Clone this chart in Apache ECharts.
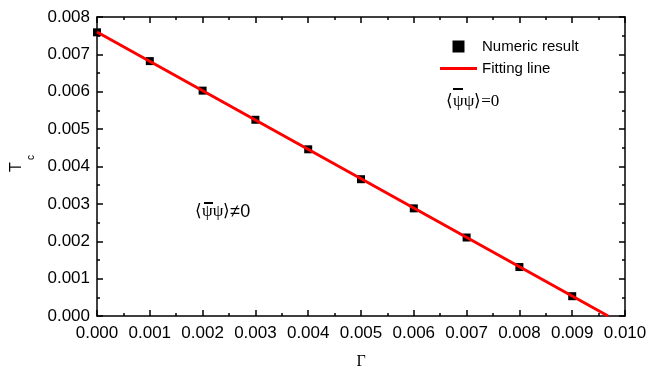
<!DOCTYPE html>
<html>
<head>
<meta charset="utf-8">
<script src="https://cdn.jsdelivr.net/npm/echarts@6/dist/echarts.min.js"></script>
<style>
  html, body { margin: 0; padding: 0; background: #fff; }
  #chart { width: 667px; height: 369px; }
</style>
</head>
<body>
<div id="chart"></div>
<script>
// Critical temperature versus coupling Γ
const gammaValues = [0.000, 0.001, 0.002, 0.003, 0.004, 0.005, 0.006, 0.007, 0.008, 0.009];
const tcValues = [0.00759, 0.00682, 0.00603, 0.00525, 0.00446, 0.00366, 0.00288, 0.00210, 0.00131, 0.00053];
// Linear fit endpoints (Γ, Tc)
const fitGamma = [0.0, 0.00968];
const fitTc = [0.00760, 0.0];

const chart = echarts.init(document.getElementById('chart'), null, { renderer: 'canvas' });

const font = '"Liberation Sans", Arial, sans-serif';
const serif = '"Liberation Serif", "Times New Roman", serif';
const axisLine = { show: true, onZero: false, lineStyle: { color: '#000', width: 1.5 } };
const tick = { inside: true, length: 6, lineStyle: { color: '#000', width: 1.5 } };
const minor = { show: true, splitNumber: 2, length: 3, lineStyle: { color: '#000', width: 1.5 } };
const fmt = v => v.toFixed(3);

chart.setOption({
  animation: false,
  backgroundColor: '#fff',
  grid: { left: 97, right: 42, top: 17, bottom: 53, outerBoundsMode: 'none', containLabel: false },
  legend: {
    orient: 'vertical',
    left: 440,
    top: 39,
    padding: 0,
    itemWidth: 37,
    itemHeight: 12,
    itemGap: 7,
    symbolKeepAspect: true,
    textStyle: { fontFamily: font, fontSize: 15, color: '#000' },
    data: [
      { name: 'Numeric result', icon: 'path://M0 0H12V12H0Z', itemStyle: { color: '#000', opacity: 1 } },
      { name: 'Fitting line', icon: 'path://M0 0H37V3H0Z', itemStyle: { color: '#ff0000' } }
    ]
  },
  xAxis: [
    {
      type: 'value', min: 0, max: 0.01, interval: 0.001,
      name: 'Γ', nameLocation: 'middle', nameGap: 38,
      nameTextStyle: { fontFamily: serif, fontSize: 16, color: '#000', verticalAlign: 'top' },
      axisLine: axisLine, axisTick: tick, minorTick: minor,
      axisLabel: { formatter: fmt, fontFamily: font, fontSize: 17, color: '#000', margin: 9 },
      splitLine: { show: false }
    },
    {
      type: 'value', position: 'top', min: 0, max: 0.01, interval: 0.001,
      axisLine: axisLine, axisTick: tick, minorTick: minor,
      axisLabel: { show: false },
      splitLine: { show: false }
    }
  ],
  yAxis: [
    {
      type: 'value', min: 0, max: 0.008, interval: 0.001,
      name: '{t|T}{s|c}', nameLocation: 'middle', nameGap: 49, nameRotate: 90,
      nameTextStyle: {
        padding: [0, 0, 0, 6],
        rich: {
          t: { fontFamily: font, fontSize: 16, color: '#000', verticalAlign: 'top' },
          s: { fontFamily: font, fontSize: 10, color: '#000', verticalAlign: 'bottom', padding: [18, 0, 0, 2] }
        }
      },
      axisLine: axisLine, axisTick: tick, minorTick: minor,
      axisLabel: { formatter: fmt, fontFamily: font, fontSize: 17, color: '#000', margin: 7 },
      splitLine: { show: false }
    },
    {
      type: 'value', position: 'right', min: 0, max: 0.008, interval: 0.001,
      axisLine: axisLine, axisTick: tick, minorTick: minor,
      axisLabel: { show: false },
      splitLine: { show: false }
    }
  ],
  series: [
    {
      name: 'Numeric result',
      type: 'scatter',
      symbol: 'rect',
      symbolSize: 8,
      itemStyle: { color: '#000', opacity: 1 },
      data: gammaValues.map((g, i) => [g, tcValues[i]]),
      z: 2
    },
    {
      name: 'Fitting line',
      type: 'line',
      showSymbol: false,
      symbol: 'none',
      lineStyle: { color: '#ff0000', width: 3 },
      itemStyle: { color: '#ff0000' },
      data: fitGamma.map((g, i) => [g, fitTc[i]]),
      z: 3
    }
  ],
  graphic: [
    {
      type: 'group', x: 446, y: 93,
      children: [
        {
          type: 'text', x: 0, y: 0,
          style: { text: '⟨ψψ⟩=0', font: '17px ' + serif, fill: '#000' }
        },
        { type: 'line', shape: { x1: 7, y1: -4, x2: 17, y2: -4 }, style: { stroke: '#000', lineWidth: 2 } }
      ]
    },
    {
      type: 'group', x: 195, y: 203,
      children: [
        {
          type: 'text', x: 0, y: 0,
          style: {
            text: '{s|⟨ψψ⟩}{n|≠0}',
            rich: {
              s: { font: '17px ' + serif, fill: '#000' },
              n: { font: '18px ' + font, fill: '#000' }
            }
          }
        },
        { type: 'line', shape: { x1: 9, y1: 0, x2: 18, y2: 0 }, style: { stroke: '#000', lineWidth: 2 } }
      ]
    }
  ]
});
</script>
</body>
</html>
